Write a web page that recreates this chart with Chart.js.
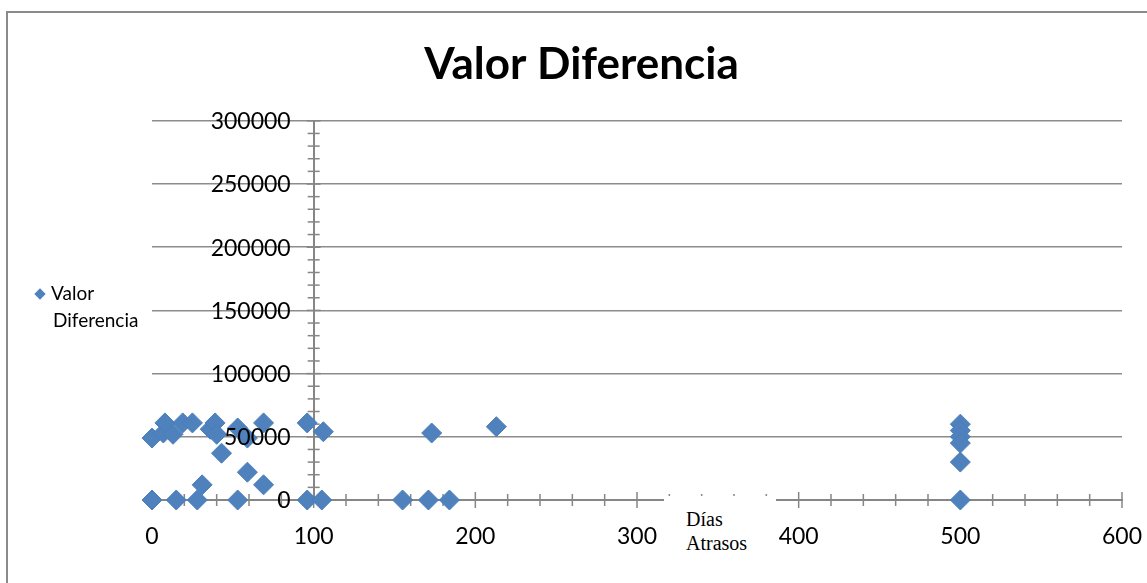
<!DOCTYPE html>
<html>
<head>
<meta charset="utf-8">
<script src="https://cdn.jsdelivr.net/npm/chart.js@4.4.1/dist/chart.umd.min.js"></script>
<style>
  html, body { margin: 0; padding: 0; background: #fff; overflow: hidden; }
  #wrap { position: relative; width: 1147px; height: 583px; }
  #frame { position: absolute; left: 6px; top: 11px; width: 1200px; height: 700px; border: 2px solid #8a8a8a; }
  #myChart { position: absolute; left: 0; top: 0; }
  #legend { position: absolute; left: 34px; top: 279px; font-family: Lato, sans-serif; font-size: 19px; line-height: 27px; color: #000; }
  #legend .mk { display: inline-block; width: 8px; height: 8px; background: #4f81bd; transform: rotate(45deg); margin: 0 7px 2px 2px; }
  #legend .l2 { padding-left: 19px; }
  #xtitle { position: absolute; left: 664px; top: 496px; width: 90px; height: 62px; background: #fff; padding: 11px 0 0 22px; font-family: "Liberation Serif", serif; font-size: 20px; line-height: 24px; color: #000; }
</style>
</head>
<body>
<div id="wrap">
  <div id="frame"></div>
  <canvas id="myChart" width="1147" height="583"></canvas>
  <div id="legend"><span class="mk"></span>Valor<div class="l2">Diferencia</div></div>
  <div id="xtitle">Días<br>Atrasos</div>
</div>
<script>
// Días Atrasos (x) / Valor Diferencia (y)
const dias  = [0, 7, 8, 13, 19, 25, 31, 28, 15, 0, 36, 39, 40, 43, 53, 53, 59, 59, 69, 69, 96, 96, 106, 105, 173, 213, 155, 171, 184, 500, 500, 500, 500, 500, 500];
const valor = [49000, 53000, 61000, 52000, 61000, 61000, 12000, 0, 0, 0, 56000, 61000, 52000, 37000, 57000, 0, 22000, 49000, 61000, 12000, 61000, 0, 54000, 0, 53000, 58000, 0, 0, 0, 60000, 55000, 50000, 45000, 30000, 0];

const points = dias.map((d, i) => ({ x: d, y: valor[i] }));

const axisGray = '#868686';
const tickFont = { family: 'Lato', size: 23 };

// tick marks crossing both sides of the axes, like the original,
// plus the y labels (chart.js ignores tick padding on an axis placed at a value)
const crossTicks = {
  id: 'crossTicks',
  beforeDatasetsDraw(chart) {
    const { ctx, scales: { x, y } } = chart;
    const ax = x.getPixelForValue(100);
    const ay = y.getPixelForValue(0);
    ctx.save();
    ctx.strokeStyle = axisGray;
    ctx.lineWidth = 1.5;
    y.ticks.forEach(t => {
      const p = y.getPixelForValue(t.value);
      const l = t.value % 50000 === 0 ? 7 : 6;
      ctx.beginPath(); ctx.moveTo(ax - l, p); ctx.lineTo(ax + l, p); ctx.stroke();
    });
    x.ticks.forEach(t => {
      const p = x.getPixelForValue(t.value);
      const l = t.value % 100 === 0 ? 8 : 6;
      ctx.beginPath(); ctx.moveTo(p, ay - l); ctx.lineTo(p, ay + l); ctx.stroke();
    });
    ctx.restore();
  },
  afterDatasetsDraw(chart) {
    // labels sit on top of the markers in the original
    const { ctx, scales: { x, y } } = chart;
    const ax = x.getPixelForValue(100);
    ctx.save();
    ctx.fillStyle = '#000';
    ctx.font = tickFont.size + 'px ' + tickFont.family;
    ctx.textAlign = 'right';
    ctx.textBaseline = 'middle';
    y.ticks.forEach(t => {
      if (t.value % 50000 === 0) ctx.fillText(String(t.value), ax - 23, y.getPixelForValue(t.value) + 1);
    });
    ctx.restore();
  }
};

const config = {
  type: 'scatter',
  data: {
    datasets: [{
      label: 'Valor Diferencia',
      data: points,
      pointStyle: 'rectRot',
      pointRadius: 10,
      backgroundColor: '#4f81bd',
      borderColor: '#4a7ebb',
      borderWidth: 1,
      clip: false
    }]
  },
  options: {
    responsive: false,
    animation: false,
    layout: { padding: { left: 41, right: 25, top: 0, bottom: 83 } },
    plugins: {
      legend: { display: false },
      tooltip: { enabled: false },
      title: {
        display: true,
        text: 'Valor Diferencia',
        color: '#000',
        font: { family: 'Lato', size: 44, weight: 'bold', lineHeight: 1.2 },
        padding: { top: 38, bottom: 30 }
      }
    },
    scales: {
      x: {
        type: 'linear',
        position: { y: 0 },
        min: 0, max: 600,
        ticks: {
          stepSize: 20, autoSkip: false, maxRotation: 0,
          callback: v => (v % 100 === 0 ? v : ''),
          color: '#000', font: tickFont, padding: 0
        },
        // invisible tick marks only push the labels down (the visible ones come from crossTicks)
        grid: { color: 'rgba(0,0,0,0)', tickColor: 'rgba(0,0,0,0)', drawTicks: true, tickLength: 23 },
        border: { color: axisGray, width: 2 }
      },
      y: {
        type: 'linear',
        position: { x: 100 },
        min: 0, max: 300000,
        ticks: { stepSize: 10000, autoSkip: false, display: false },
        grid: {
          color: c => (c.tick && c.tick.value % 50000 === 0 ? '#8c8c8c' : 'rgba(0,0,0,0)'),
          lineWidth: 1.5,
          drawTicks: false
        },
        border: { color: axisGray, width: 2 }
      },
      // empty axis only to hold the left margin where the legend sits
      pad: {
        axis: 'y',
        position: 'left',
        ticks: { display: false },
        grid: { display: false, drawTicks: false },
        border: { display: false },
        afterFit(s) { s.width = 111; }
      }
    }
  },
  plugins: [crossTicks]
};

var myChart = new Chart(document.getElementById('myChart'), config);
</script>
</body>
</html>
